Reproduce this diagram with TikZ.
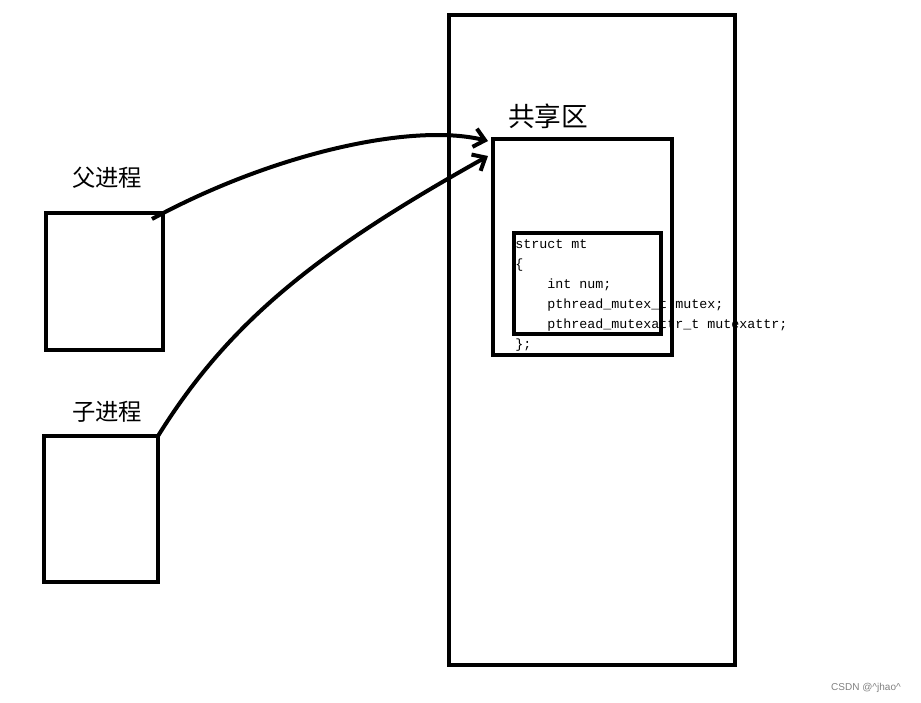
\documentclass[tikz,border=0pt]{standalone}
\usepackage{fontspec}
\setmonofont{Liberation Mono}
\setsansfont{Liberation Sans}
\newfontfamily\cjk{Noto Sans CJK SC}
\usetikzlibrary{arrows.meta}

\begin{document}
\begin{tikzpicture}[x=0.75pt,y=-0.75pt,
  box/.style={draw,line width=3pt,inner sep=0pt,outer sep=0pt},
  jump/.style={line width=3pt,-{Straight Barb[length=8pt,width=14pt]}}]
\useasboundingbox (0,0) rectangle (921,703);

\node at (515,348) (code)[anchor=base west,align=left,inner sep=0pt,
  font=\ttfamily\fontsize{10pt}{15pt}\selectfont]{struct mt\\\{\\
  \hspace*{24pt}int num;\\
  \hspace*{24pt}pthread\_mutex\_t mutex;\\
  \hspace*{24pt}pthread\_mutexattr\_t mutexattr;\\
  \};};

\node at (592,340) (shm)[box,minimum width=214.5pt,minimum height=487.5pt]{};
\node at (582.5,247) (sh)[box,minimum width=134.25pt,minimum height=162pt]{};
\node at (587.5,283.5) (mt)[box,minimum width=110.25pt,minimum height=75.75pt]{};
\node at (104.5,281.5) (fu)[box,minimum width=87.75pt,minimum height=102.75pt]{};
\node at (101,509) (zi)[box,minimum width=85.5pt,minimum height=109.5pt]{};

\node at (107,178) (fulabel)[font=\cjk\fontsize{17.5pt}{20pt}\selectfont]{父进程};
\node at (107,412) (zilabel)[font=\cjk\fontsize{17.5pt}{20pt}\selectfont]{子进程};
\node at (548,116) (shlabel)[font=\cjk\fontsize{20pt}{24pt}\selectfont]{共享区};
\node at (866,688) (mark)[font=\sffamily\fontsize{7.5pt}{9pt}\selectfont,text=gray]{CSDN @\textasciicircum jhao\textasciicircum};

\draw[jump] ([shift={(-11,6)}]fu.north east) .. controls (270,155) and (410,122) .. ([shift={(-5,2)}]sh.north west);
\draw[jump] (zi.north east) .. controls (230,320) and (320,250) .. ([shift={(-5,17)}]sh.north west);
\end{tikzpicture}
\end{document}
